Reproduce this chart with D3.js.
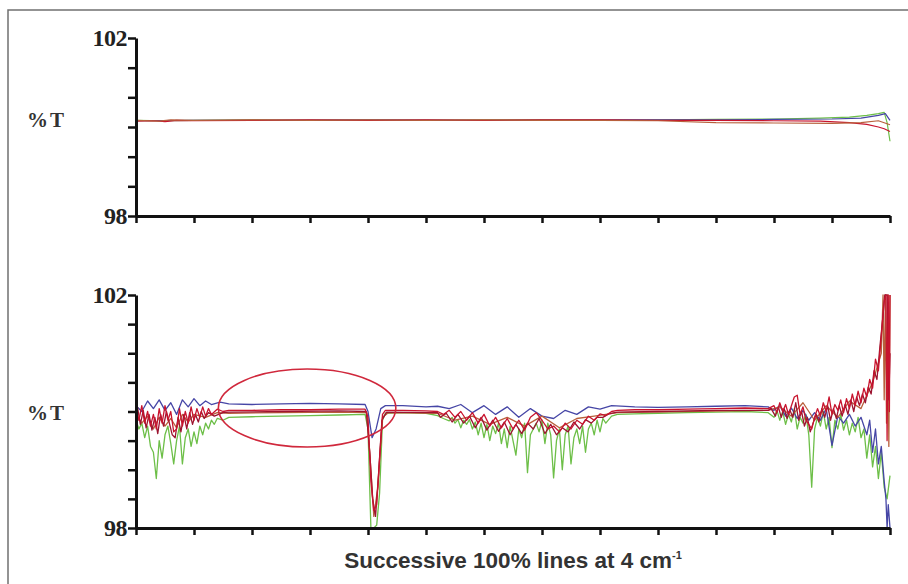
<!DOCTYPE html>
<html>
<head>
<meta charset="utf-8">
<script src="https://cdn.jsdelivr.net/npm/d3@7"></script>
<style>
  body { margin: 0; background: #fff; }
  svg { display: block; }
</style>
</head>
<body>
<svg id="chart" width="908" height="584"></svg>
<script>
// ticks and labels
const xTicks = [0, 1, 2, 3, 4, 5, 6, 7, 8, 9, 10, 11, 12, 13];
const topTicks = [98, 98.667, 99.333, 100, 100.667, 101.333, 102];
const bottomTicks = [98, 98.5, 99, 99.5, 100, 100.5, 101, 101.5, 102];
const yLabelValues = [98, 102];
const yTitle = "%T";
const xTitle = "Successive 100% lines at 4 cm";
const xTitleSup = "-1";

// top panel, [x, %T]
const topGreen = [[0,100.15],[0.5,100.14],[1,100.15],[2,100.16],[3,100.15],[4,100.16],[5,100.15],[6,100.16],[7,100.16],[8,100.15],[9,100.16],[10,100.17],[11,100.18],[11.8,100.2],[12.3,100.22],[12.6,100.26],[12.8,100.3],[12.9,100.33],[12.95,100.1],[13,99.68]];
const topBlue = [[0,100.14],[1,100.15],[2,100.15],[4,100.16],[6,100.15],[8,100.16],[10,100.16],[11,100.17],[12,100.18],[12.5,100.2],[12.8,100.26],[12.92,100.3],[13,100.15]];
const topRed = [[0,100.13],[0.3,100.14],[0.5,100.12],[0.7,100.15],[1,100.14],[2,100.15],[3,100.16],[4,100.15],[5,100.16],[6,100.15],[7,100.16],[8,100.16],[9,100.15],[10,100.15],[11,100.14],[11.8,100.13],[12.3,100.1],[12.6,100.06],[12.8,100.0],[12.9,99.96],[13,99.9]];
const topBrown = [[0,100.15],[0.4,100.13],[0.6,100.16],[1,100.15],[2,100.16],[3,100.15],[4,100.16],[5,100.15],[6,100.16],[7,100.15],[8,100.15],[9,100.14],[10,100.1],[11,100.09],[12,100.08],[12.5,100.1],[12.8,100.14],[13,100.05]];

// bottom panel, [x, %T]
const bottomGreen = [
  [0,99.85],[0.05,99.7],[0.1,99.8],[0.15,99.55],[0.2,99.75],[0.25,99.4],[0.3,99.3],[0.35,98.85],[0.4,99.5],[0.45,99.2],
  [0.5,99.6],[0.55,99.75],[0.6,99.45],[0.65,99.1],[0.7,99.5],[0.75,99.75],[0.8,99.1],[0.85,99.55],[0.9,99.7],[0.95,99.4],
  [1,99.65],[1.05,99.45],[1.1,99.75],[1.15,99.6],[1.2,99.8],[1.25,99.7],[1.3,99.85],[1.35,99.78],[1.4,99.88],[1.5,99.85],
  [1.6,99.9],[2,99.91],[2.5,99.92],[3,99.93],[3.5,99.94],[3.95,99.95],
  [4,99.7],[4.05,98],[4.1,98],[4.15,98.05],[4.2,98.6],[4.25,99.85],[4.3,99.97],[4.6,99.98],[5,99.97],[5.2,99.93],
  [5.3,99.88],[5.4,99.84],[5.45,99.9],[5.5,99.8],[5.55,99.86],[5.6,99.72],[5.65,99.85],[5.7,99.78],[5.75,99.86],[5.8,99.7],
  [5.85,99.82],[5.9,99.6],[5.95,99.8],[6,99.55],[6.05,99.78],[6.1,99.5],[6.15,99.75],[6.2,99.62],[6.25,99.8],[6.3,99.45],
  [6.35,99.7],[6.4,99.38],[6.45,99.75],[6.5,99.5],[6.55,99.25],[6.6,99.7],[6.65,99.55],[6.7,99.8],[6.75,98.95],[6.8,99.6],
  [6.85,99.7],[6.9,99.8],[6.95,99.65],[7,99.85],[7.05,99.45],[7.1,99.8],[7.15,99.6],[7.2,98.86],[7.25,99.5],[7.3,99.7],
  [7.35,99],[7.4,99.6],[7.45,99.75],[7.5,99.1],[7.55,99.55],[7.6,99.7],[7.65,99.45],[7.7,99.75],[7.75,99.3],[7.8,99.7],
  [7.85,99.8],[7.9,99.6],[7.95,99.85],[8,99.65],[8.05,99.88],[8.1,99.8],[8.2,99.92],[8.3,99.95],
  [8.6,99.96],[9,99.97],[9.5,99.98],[10,99.99],[10.5,100],[10.9,99.98],
  [11,99.9],[11.05,100.02],[11.1,99.85],[11.15,100],[11.2,99.78],[11.25,99.95],[11.3,99.82],[11.35,100.05],[11.4,99.7],[11.45,99.9],
  [11.5,99.8],[11.55,99.95],[11.6,99.6],[11.65,98.7],[11.7,99.7],[11.75,99.9],[11.8,99.75],[11.85,100],[11.9,99.7],[11.95,99.9],
  [12,99.38],[12.05,99.85],[12.1,99.7],[12.15,99.95],[12.2,99.68],[12.25,99.85],[12.3,99.6],[12.35,99.8],[12.4,99.65],[12.45,99.9],
  [12.5,99.55],[12.55,99.7],[12.6,99.2],[12.65,99.6],[12.7,99.05],[12.75,99.4],[12.8,98.85],[12.85,99.3],[12.9,98.7],[12.95,98.5],[13,98.9]
];
const bottomBlue = [
  [0,100.1],[0.1,100],[0.2,100.18],[0.3,100.05],[0.4,100.2],[0.5,100.02],[0.6,100.15],[0.7,99.95],[0.8,100.2],[0.9,100.08],
  [1,100.22],[1.1,100.1],[1.2,100.18],[1.3,100.12],[1.45,100.16],[1.6,100.13],[2,100.12],[2.5,100.13],[3,100.14],[3.5,100.13],[3.95,100.12],
  [4,100],[4.07,99.55],[4.14,99.7],[4.22,100.05],[4.3,100.1],[4.6,100.1],[5,100.08],[5.2,100.09],
  [5.4,100.05],[5.6,100.12],[5.8,99.98],[6,100.1],[6.2,99.95],[6.4,100.08],[6.6,99.9],[6.8,100.05],[7,99.92],[7.2,99.88],
  [7.4,100.02],[7.6,99.95],[7.8,100.08],[8,100.04],[8.2,100.1],[8.6,100.08],[9,100.07],[9.5,100.08],[10,100.09],[10.5,100.1],[10.9,100.08],
  [11,100.02],[11.1,100.1],[11.2,99.92],[11.3,100.06],[11.4,99.88],[11.5,100.02],[11.6,99.85],[11.7,99.98],[11.8,99.85],[11.9,100.05],
  [12,99.42],[12.1,99.92],[12.2,99.8],[12.3,99.95],[12.4,99.75],[12.5,99.9],[12.6,99.6],[12.65,99.85],[12.7,99.3],[12.75,99.7],
  [12.8,99.1],[12.85,99.4],[12.9,98.8],[12.93,98.5],[12.95,98],[12.97,98.4],[13,98]
];
const bottomBrown = [
  [0,99.95],[0.1,99.8],[0.2,99.92],[0.3,99.7],[0.4,99.9],[0.5,99.75],[0.6,99.88],[0.7,99.72],[0.8,99.95],[0.9,99.82],
  [1,99.95],[1.2,99.9],[1.4,99.98],[1.6,99.97],[2.5,99.98],[3.5,99.99],[3.98,99.98],
  [4.05,99],[4.1,98.2],[4.17,98.7],[4.25,99.9],[4.35,99.98],[5.2,99.97],[5.5,99.85],[5.8,99.92],[6.1,99.78],[6.4,99.9],
  [6.7,99.75],[7,99.92],[7.3,99.72],[7.6,99.88],[7.9,99.92],[8.3,99.98],[10.9,100.02],[11.1,100.08],[11.3,99.92],[11.5,100.15],
  [11.7,99.85],[11.9,100.1],[12.1,99.9],[12.3,100.18],[12.5,100.05],[12.7,100.5],[12.85,101],[12.88,102],[12.9,100.2],
  [12.92,102],[12.94,99.8],[12.96,102],[12.98,99.4],[13,102]
];
const bottomDarkRed = [
  [0,99.9],[0.025,100.08],[0.075,99.78],[0.125,100.02],[0.175,99.72],[0.225,99.95],[0.275,99.68],[0.325,99.9],[0.375,99.62],[0.425,99.95],
  [0.475,99.75],[0.525,100],[0.575,99.8],[0.625,99.6],[0.675,99.55],[0.725,99.9],[0.775,99.65],[0.825,99.95],[0.875,99.7],[0.925,99.98],
  [0.975,99.78],[1.025,99.95],[1.075,99.82],[1.125,100],[1.175,99.88],[1.25,99.98],[1.35,99.92],[1.5,99.98],[1.6,99.99],
  [2.5,100],[3.5,100.01],[3.97,100],[4.03,99.3],[4.08,98.5],[4.13,98.2],[4.18,98.9],[4.24,99.85],[4.32,99.99],[5.2,99.98],
  [5.25,99.9],[5.35,99.97],[5.45,99.82],[5.55,99.95],[5.65,99.8],[5.75,99.92],[5.85,99.72],[5.95,99.9],[6.05,99.68],[6.15,99.85],
  [6.25,99.66],[6.35,99.82],[6.45,99.6],[6.55,99.78],[6.65,99.62],[6.75,99.8],[6.85,99.7],[6.95,99.88],[7.05,99.62],[7.15,99.78],
  [7.25,99.6],[7.35,99.72],[7.45,99.65],[7.55,99.82],[7.65,99.7],[7.75,99.86],[7.85,99.8],[7.95,99.9],[8.05,99.9],[8.15,99.96],[8.3,99.99],
  [9,100],[10,100.02],[10.9,100.02],
  [10.95,100.05],[11.025,99.92],[11.075,100.08],[11.125,99.9],[11.175,100.05],[11.225,99.88],[11.275,100.02],[11.325,99.9],[11.375,100.15],[11.425,99.85],
  [11.475,100],[11.525,99.75],[11.575,99.9],[11.625,99.65],[11.675,99.8],[11.725,99.95],[11.775,99.82],[11.825,100.05],[11.875,99.9],[11.925,100.1],
  [11.975,99.85],[12.025,100.05],[12.075,99.88],[12.125,100.1],[12.175,99.92],[12.225,100.12],[12.275,99.95],[12.325,100.2],[12.375,100],[12.425,100.25],
  [12.475,100.1],[12.525,100.3],[12.575,100.15],[12.625,100.42],[12.675,100.3],[12.725,100.7],[12.775,100.55],[12.825,101.1],[12.875,101.6],[12.91,102],
  [12.95,102],[12.98,100.2],[13,101]
];
const bottomRed = [
  [0,100.05],[0.05,99.85],[0.1,100.1],[0.15,99.8],[0.2,100],[0.25,99.75],[0.3,99.95],[0.35,99.7],[0.4,100.05],[0.45,99.8],
  [0.5,100.1],[0.55,99.85],[0.6,100],[0.65,99.65],[0.7,99.7],[0.75,100.05],[0.8,99.75],[0.85,100],[0.9,99.8],[0.95,100.08],
  [1,99.85],[1.05,100.05],[1.1,99.9],[1.15,100.08],[1.2,99.92],[1.25,100.05],[1.3,99.95],[1.4,100.04],[1.5,100],[1.6,100.02],
  [2,100.02],[2.5,100.03],[3,100.03],[3.5,100.04],[3.95,100.04],
  [4,99.9],[4.05,98.8],[4.1,98.3],[4.15,98.4],[4.2,99.2],[4.25,99.95],[4.3,100.02],[4.6,100.02],[5,100.01],[5.2,100],
  [5.3,99.95],[5.4,100.02],[5.5,99.9],[5.6,100],[5.7,99.85],[5.8,99.98],[5.9,99.8],[6,99.95],[6.1,99.75],[6.2,99.9],
  [6.3,99.72],[6.4,99.88],[6.5,99.7],[6.6,99.85],[6.7,99.68],[6.8,99.9],[6.9,99.98],[7,99.85],[7.1,99.7],[7.2,99.75],
  [7.3,99.65],[7.4,99.8],[7.5,99.7],[7.6,99.85],[7.7,99.78],[7.8,99.92],[7.9,99.85],[8,99.96],[8.1,99.93],[8.2,100],[8.3,100.02],
  [8.6,100.03],[9,100.03],[9.5,100.04],[10,100.05],[10.5,100.06],[10.9,100.05],
  [11,100.1],[11.05,99.98],[11.1,100.15],[11.15,100],[11.2,100.12],[11.25,99.95],[11.3,100.1],[11.35,100.25],[11.4,100.28],[11.45,99.95],
  [11.5,100.08],[11.55,99.85],[11.6,99.78],[11.65,99.7],[11.7,99.9],[11.75,100.05],[11.8,99.92],[11.85,100.15],[11.9,100],[11.95,100.25],
  [12,99.95],[12.05,100.12],[12.1,100.02],[12.15,100.2],[12.2,99.98],[12.25,100.22],[12.3,100.05],[12.35,100.3],[12.4,100.1],[12.45,100.35],
  [12.5,100.15],[12.55,100.4],[12.6,100.25],[12.65,100.55],[12.7,100.4],[12.75,100.9],[12.8,100.7],[12.85,101.3],[12.9,101.9],[12.93,102],
  [12.95,99.5],[12.97,102],[12.99,100],[13,102]
];

// ellipse annotation in data units: centre x, centre %T, half width, half height
const ringCentre = [2.95, 100.06];
const ringRadii = [1.53, 0.67];

const colors = { green: "#6dbf48", blue: "#4646a6", brown: "#b8603c", darkRed: "#9c1430", red: "#c8142e" };

const svg = d3.select("#chart");
const x = d3.scaleLinear().domain([0, 13]).range([136, 890]);
const yTop = d3.scaleLinear().domain([98, 102]).range([216, 38]);
const yBottom = d3.scaleLinear().domain([98, 102]).range([528, 295]);

// frame
svg.append("path")
  .attr("d", "M8,584V10H908")
  .attr("fill", "none")
  .attr("stroke", "#707070")
  .attr("stroke-width", 1.5);

const drawPanel = (id, y, ticks, series, lineWidth, titleAt) => {
  svg.append("defs").append("clipPath")
    .attr("id", id)
    .append("rect")
    .attr("x", x(0))
    .attr("y", y(102) - 1)
    .attr("width", x(13) - x(0) + 2)
    .attr("height", y(98) - y(102) + 1);

  const line = d3.line()
    .x(d => x(d[0]))
    .y(d => y(d[1]));

  series.forEach(s => {
    svg.append("path")
      .datum(s.data)
      .attr("clip-path", `url(#${id})`)
      .attr("fill", "none")
      .attr("stroke", colors[s.color])
      .attr("stroke-width", lineWidth)
      .attr("stroke-linejoin", "round")
      .attr("d", line);
  });

  const yAxis = svg.append("g")
    .attr("transform", `translate(${x(0)},0)`)
    .call(d3.axisLeft(y).tickValues(ticks).tickSize(8).tickSizeOuter(0).tickFormat(""));

  const xAxis = svg.append("g")
    .attr("transform", `translate(0,${y(98)})`)
    .call(d3.axisBottom(x).tickValues(xTicks).tickSize(7).tickSizeOuter(0).tickFormat(""));

  [yAxis, xAxis].forEach(a => {
    a.select(".domain").attr("stroke", "#111").attr("stroke-width", 3);
    a.selectAll(".tick line").attr("stroke", "#111").attr("stroke-width", 2.5);
  });

  svg.append("g")
    .selectAll("text")
    .data(yLabelValues)
    .join("text")
    .attr("x", x(0) - 9)
    .attr("y", d => y(d) + 8)
    .attr("text-anchor", "end")
    .attr("font-family", "Liberation Serif, serif")
    .attr("font-weight", "bold")
    .attr("font-size", 24)
    .attr("letter-spacing", -0.5)
    .attr("fill", "#222")
    .text(d => d);

  svg.append("text")
    .attr("x", 27)
    .attr("y", y(titleAt) + 7)
    .attr("font-family", "Liberation Serif, serif")
    .attr("font-weight", "bold")
    .attr("font-size", 21)
    .attr("letter-spacing", 2)
    .attr("fill", "#333")
    .text(yTitle);
};

drawPanel("clipTop", yTop, topTicks, [
  { color: "green", data: topGreen },
  { color: "blue", data: topBlue },
  { color: "red", data: topRed },
  { color: "brown", data: topBrown }
], 1.2, 100.15);

drawPanel("clipBottom", yBottom, bottomTicks, [
  { color: "green", data: bottomGreen },
  { color: "blue", data: bottomBlue },
  { color: "brown", data: bottomBrown },
  { color: "darkRed", data: bottomDarkRed },
  { color: "red", data: bottomRed }
], 1.3, 99.97);

// the red ring
svg.append("ellipse")
  .attr("cx", x(ringCentre[0]))
  .attr("cy", yBottom(ringCentre[1]))
  .attr("rx", x(ringRadii[0]) - x(0))
  .attr("ry", yBottom(98) - yBottom(98 + ringRadii[1]))
  .attr("fill", "none")
  .attr("stroke", "#d0283c")
  .attr("stroke-width", 1.6);

// x title
const title = svg.append("text")
  .attr("x", (x(0) + x(13)) / 2)
  .attr("y", 568)
  .attr("text-anchor", "middle")
  .attr("font-family", "Liberation Sans, Arial, sans-serif")
  .attr("font-weight", "bold")
  .attr("font-size", 22.5)
  .attr("fill", "#333")
  .text(xTitle);

title.append("tspan")
  .attr("dy", -9)
  .attr("font-size", 11)
  .text(xTitleSup);
</script>
</body>
</html>
